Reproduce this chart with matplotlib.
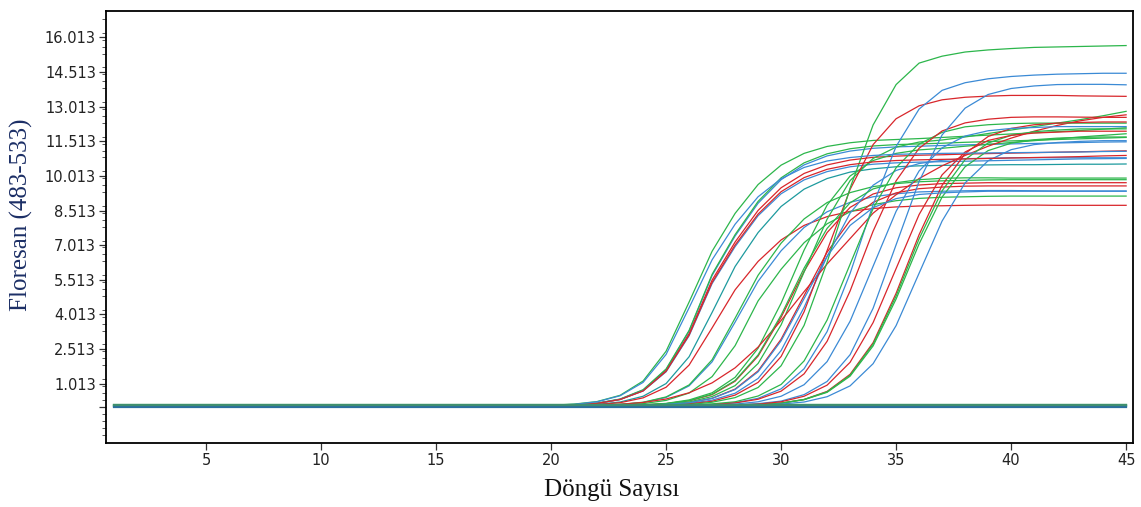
import matplotlib
matplotlib.use("Agg")
import matplotlib.pyplot as plt
from matplotlib.ticker import FixedLocator

# ---------------- data ----------------
cycles = list(range(1, 46))
rise_from = 20          # stored curve values start at this cycle
baseline = 0.05         # flat level of every positive curve before cycle 20

RED, GREEN, BLUE, TEAL = "#d8262b", "#2cb64b", "#3b8ad5", "#1d9a9e"

c01 = [0.08, 0.13, 0.24, 0.51, 1.13, 2.42, 4.55, 6.75, 8.39, 9.64, 10.48, 10.99, 11.29, 11.45, 11.55, 11.59, 11.63, 11.68, 11.73, 11.78, 11.83, 11.88, 11.93, 11.98, 12.04, 12.1]
c02 = [0.07, 0.10, 0.17, 0.34, 0.74, 1.63, 3.29, 5.70, 7.41, 8.83, 9.85, 10.49, 10.88, 11.09, 11.21, 11.27, 11.30, 11.33, 11.36, 11.38, 11.4, 11.42, 11.44, 11.46, 11.48, 11.49]
c03 = [0.07, 0.10, 0.16, 0.33, 0.71, 1.58, 3.18, 5.50, 7.15, 8.52, 9.50, 10.12, 10.49, 10.70, 10.82, 10.87, 10.91, 10.93, 10.96, 10.98, 11.0, 11.02, 11.04, 11.06, 11.08, 11.1]
c04 = [0.07, 0.10, 0.17, 0.35, 0.75, 1.65, 3.32, 5.75, 7.47, 8.91, 9.93, 10.58, 10.97, 11.19, 11.31, 11.37, 11.40, 11.43, 11.47, 11.5, 11.53, 11.56, 11.59, 11.62, 11.65, 11.68]
c05 = [0.07, 0.10, 0.16, 0.33, 0.70, 1.53, 3.09, 5.35, 6.95, 8.29, 9.24, 9.84, 10.20, 10.41, 10.52, 10.58, 10.61, 10.63, 10.65, 10.67, 10.69, 10.71, 10.73, 10.75, 10.76, 10.77]
c06 = [0.06, 0.08, 0.12, 0.22, 0.47, 1.02, 2.18, 4.10, 6.09, 7.56, 8.69, 9.44, 9.90, 10.18, 10.32, 10.41, 10.45, 10.47, 10.48, 10.49, 10.5, 10.5, 10.51, 10.52, 10.52, 10.53]
c07 = [0.06, 0.07, 0.11, 0.19, 0.40, 0.86, 1.82, 3.43, 5.08, 6.31, 7.24, 7.87, 8.25, 8.48, 8.60, 8.67, 8.71, 8.72, 8.74, 8.75, 8.75, 8.75, 8.74, 8.74, 8.74, 8.74]
c08 = [0.05, 0.06, 0.08, 0.11, 0.20, 0.42, 0.92, 1.96, 3.68, 5.45, 6.77, 7.78, 8.46, 8.87, 9.11, 9.24, 9.32, 9.35, 9.37, 9.38, 9.38, 9.37, 9.36, 9.36, 9.36, 9.36]
c09 = [0.05, 0.06, 0.07, 0.09, 0.15, 0.29, 0.61, 1.32, 2.66, 4.60, 5.97, 7.12, 7.94, 8.46, 8.77, 8.94, 9.04, 9.09, 9.11, 9.13, 9.14, 9.14, 9.14, 9.14, 9.14, 9.14]
c10 = [0.05, 0.06, 0.08, 0.12, 0.21, 0.44, 0.96, 2.05, 3.85, 5.71, 7.10, 8.15, 8.86, 9.29, 9.55, 9.68, 9.76, 9.80, 9.82, 9.84, 9.85, 9.85, 9.85, 9.85, 9.85, 9.85]
c11 = [0.05, 0.05, 0.06, 0.07, 0.09, 0.15, 0.27, 0.54, 1.12, 2.21, 3.89, 5.88, 7.56, 8.65, 9.23, 9.5, 9.62, 9.68, 9.7, 9.72, 9.72, 9.72, 9.72, 9.72, 9.72, 9.72]
c12 = [0.05, 0.05, 0.06, 0.06, 0.08, 0.12, 0.19, 0.38, 0.78, 1.57, 2.94, 4.83, 6.71, 8.08, 8.87, 9.28, 9.46, 9.53, 9.57, 9.58, 9.58, 9.58, 9.58, 9.58, 9.58, 9.58]
c13 = [0.05, 0.05, 0.05, 0.06, 0.07, 0.09, 0.16, 0.3, 0.6, 1.24, 2.45, 4.32, 6.53, 8.4, 9.61, 10.25, 10.55, 10.69, 10.76, 10.78, 10.8, 10.8, 10.8, 10.8, 10.8, 10.8]
c14 = [0.05, 0.05, 0.06, 0.07, 0.1, 0.16, 0.31, 0.62, 1.29, 2.55, 4.5, 6.8, 8.75, 10.01, 10.68, 10.99, 11.14, 11.21, 11.3, 11.38, 11.46, 11.54, 11.62, 11.7, 11.77, 11.84]
c15 = [0.05, 0.05, 0.06, 0.06, 0.09, 0.13, 0.22, 0.46, 0.93, 1.89, 3.56, 5.85, 8.14, 9.81, 10.77, 11.26, 11.48, 11.57, 11.7, 11.85, 12.0, 12.15, 12.3, 12.45, 12.62, 12.81]
c16 = [0.05, 0.06, 0.08, 0.12, 0.2, 0.35, 0.62, 1.05, 1.7, 2.6, 3.75, 5.0, 6.2, 7.3, 8.4, 9.2, 9.9, 10.45, 10.9, 11.3, 11.65, 11.95, 12.2, 12.4, 12.55, 12.66]
c17 = [0.05, 0.05, 0.05, 0.06, 0.06, 0.09, 0.14, 0.25, 0.52, 1.07, 2.19, 4.13, 6.78, 9.43, 11.37, 12.49, 13.05, 13.31, 13.42, 13.47, 13.5, 13.5, 13.5, 13.48, 13.47, 13.46]
c18 = [0.05, 0.05, 0.05, 0.05, 0.06, 0.08, 0.11, 0.21, 0.41, 0.85, 1.79, 3.54, 6.27, 9.49, 12.22, 13.97, 14.9, 15.2, 15.38, 15.47, 15.53, 15.58, 15.6, 15.62, 15.64, 15.66]
c19 = [0.05, 0.05, 0.05, 0.05, 0.05, 0.05, 0.08, 0.11, 0.19, 0.38, 0.79, 1.66, 3.27, 5.79, 8.77, 11.29, 12.91, 13.72, 14.05, 14.22, 14.32, 14.38, 14.42, 14.44, 14.46, 14.46]
c20 = [0.05, 0.05, 0.05, 0.05, 0.05, 0.06, 0.09, 0.14, 0.23, 0.48, 0.98, 2.0, 3.77, 6.19, 8.6, 10.37, 11.39, 11.9, 12.14, 12.23, 12.28, 12.3, 12.3, 12.3, 12.3, 12.3]
c21 = [0.05, 0.05, 0.05, 0.05, 0.05, 0.05, 0.08, 0.1, 0.18, 0.34, 0.69, 1.44, 2.85, 5.03, 7.62, 9.8, 11.21, 11.96, 12.31, 12.47, 12.55, 12.57, 12.57, 12.56, 12.55, 12.55]
c22 = [0.05, 0.05, 0.05, 0.05, 0.05, 0.05, 0.05, 0.05, 0.09, 0.15, 0.26, 0.54, 1.11, 2.27, 4.28, 7.03, 9.78, 11.79, 12.95, 13.54, 13.8, 13.91, 13.97, 13.98, 13.98, 13.96]
c23 = [0.05, 0.05, 0.05, 0.05, 0.05, 0.05, 0.05, 0.05, 0.07, 0.1, 0.17, 0.33, 0.68, 1.42, 2.79, 4.93, 7.47, 9.61, 10.98, 11.72, 12.07, 12.23, 12.3, 12.33, 12.35, 12.35]
c24 = [0.05, 0.05, 0.05, 0.05, 0.05, 0.05, 0.05, 0.05, 0.07, 0.1, 0.17, 0.33, 0.66, 1.38, 2.73, 4.81, 7.29, 9.37, 10.72, 11.44, 11.77, 11.93, 12.0, 12.05, 12.05, 12.05]
c25 = [0.05, 0.05, 0.05, 0.05, 0.05, 0.05, 0.05, 0.05, 0.07, 0.1, 0.17, 0.32, 0.64, 1.34, 2.65, 4.68, 7.07, 9.1, 10.41, 11.11, 11.43, 11.58, 11.65, 11.68, 11.7, 11.7]
c26 = [0.05, 0.05, 0.05, 0.05, 0.05, 0.05, 0.05, 0.05, 0.09, 0.13, 0.23, 0.47, 0.95, 1.94, 3.66, 6.0, 8.34, 10.06, 11.05, 11.55, 11.77, 11.87, 11.91, 11.95, 11.95, 11.95]
c27 = [0.05, 0.05, 0.05, 0.05, 0.05, 0.05, 0.05, 0.05, 0.05, 0.08, 0.13, 0.22, 0.45, 0.92, 1.88, 3.53, 5.8, 8.06, 9.71, 10.67, 11.15, 11.37, 11.46, 11.51, 11.54, 11.54]
c28 = [0.05, 0.05, 0.05, 0.05, 0.05, 0.05, 0.05, 0.09, 0.13, 0.23, 0.47, 0.97, 1.97, 3.72, 6.1, 8.48, 10.23, 11.23, 11.74, 11.97, 12.07, 12.11, 12.15, 12.15, 12.15, 12.15]
c29 = [0.07, 0.10, 0.16, 0.33, 0.70, 1.55, 3.12, 5.40, 7.02, 8.36, 9.33, 9.94, 10.30, 10.50, 10.62, 10.68, 10.71, 10.73, 10.75, 10.77, 10.79, 10.81, 10.83, 10.85, 10.88, 10.9]
c30 = [0.08, 0.12, 0.23, 0.49, 1.07, 2.28, 4.30, 6.38, 7.92, 9.11, 9.89, 10.38, 10.66, 10.81, 10.90, 10.95, 10.97, 10.99, 11.0, 11.01, 11.02, 11.03, 11.04, 11.05, 11.07, 11.08]
c31 = [0.05, 0.05, 0.06, 0.07, 0.09, 0.15, 0.28, 0.56, 1.15, 2.26, 3.98, 6.02, 7.74, 8.85, 9.45, 9.72, 9.85, 9.91, 9.93, 9.93, 9.92, 9.92, 9.92, 9.92, 9.92, 9.92]
c32 = [0.05, 0.05, 0.06, 0.06, 0.08, 0.12, 0.19, 0.38, 0.76, 1.53, 2.87, 4.7, 6.53, 7.87, 8.64, 9.03, 9.21, 9.28, 9.32, 9.35, 9.35, 9.35, 9.35, 9.35, 9.35, 9.35]

curve_values = [c01, c02, c03, c04, c05, c06, c07, c08, c09, c10, c11, c12, c13, c14, c15, c16,
                c17, c18, c19, c20, c21, c22, c23, c24, c25, c26, c27, c28, c29, c30, c31, c32]
curve_colors = [GREEN, BLUE, RED, GREEN, BLUE, TEAL, RED, BLUE, GREEN, GREEN, RED, RED, BLUE, GREEN, GREEN, RED,
                RED, GREEN, BLUE, GREEN, RED, BLUE, RED, GREEN, GREEN, RED, BLUE, BLUE, RED, BLUE, GREEN, BLUE]

# negative wells: flat lines over all cycles
neg_levels = [0.06, 0.10, 0.02, 0.08]
neg_colors = [TEAL, GREEN, "#2b6f9e", "#3f8f6f"]

y_ticks = [1.013, 2.513, 4.013, 5.513, 7.013, 8.513, 10.013, 11.513, 13.013, 14.513, 16.013]
y_tick_labels = ["1.013", "2.513", "4.013", "5.513", "7.013", "8.513", "10.013", "11.513", "13.013", "14.513", "16.013"]
x_ticks = [5, 10, 15, 20, 25, 30, 35, 40, 45]

# ---------------- figure ----------------
fig = plt.figure(figsize=(11.41, 5.07), dpi=100)
ax = fig.add_axes([0.0925, 0.126, 0.9005, 0.852])

for vals, col in zip(curve_values, curve_colors):
    n_pre = rise_from - cycles[0]
    ys = [baseline] * n_pre + vals
    ax.plot(cycles, ys, color=col, lw=0.9, solid_joinstyle="round")

for lvl, col in zip(neg_levels, neg_colors):
    ax.plot(cycles, [lvl] * len(cycles), color=col, lw=1.6)

ax.set_xlim(0.63, 45.3)
ax.set_ylim(-1.56, 17.15)

ax.xaxis.set_major_locator(FixedLocator(x_ticks))
ax.set_xticklabels([str(t) for t in x_ticks])
ax.yaxis.set_major_locator(FixedLocator([0.013] + y_ticks))
ax.set_yticklabels([""] + y_tick_labels)
ax.yaxis.set_minor_locator(FixedLocator([0.013 + 0.3 * k for k in range(-5, 57) if k % 5 != 0]))

for lab in ax.get_xticklabels() + ax.get_yticklabels():
    lab.set_fontfamily(["DejaVu Sans"])
    lab.set_fontsize(10.5)
    lab.set_color("#222222")

ax.tick_params(axis="both", which="major", direction="out", length=5, width=0.9, color="#333333", pad=2)
ax.tick_params(axis="y", which="minor", direction="out", length=3, width=0.7, color="#555555")

for sp in ax.spines.values():
    sp.set_linewidth(1.3)
    sp.set_color("black")

ax.set_xlabel("Döngü Sayısı", fontsize=18, family=["Liberation Serif", "DejaVu Serif"], color="#111111")
ax.set_ylabel("Floresan (483-533)", fontsize=18, family=["Liberation Serif", "DejaVu Serif"], color="#1c2f66")
ax.xaxis.set_label_coords(0.4925, -0.083)
ax.yaxis.set_label_coords(-0.071, 0.528)

fig.savefig("out.png", dpi=100, facecolor="white")
